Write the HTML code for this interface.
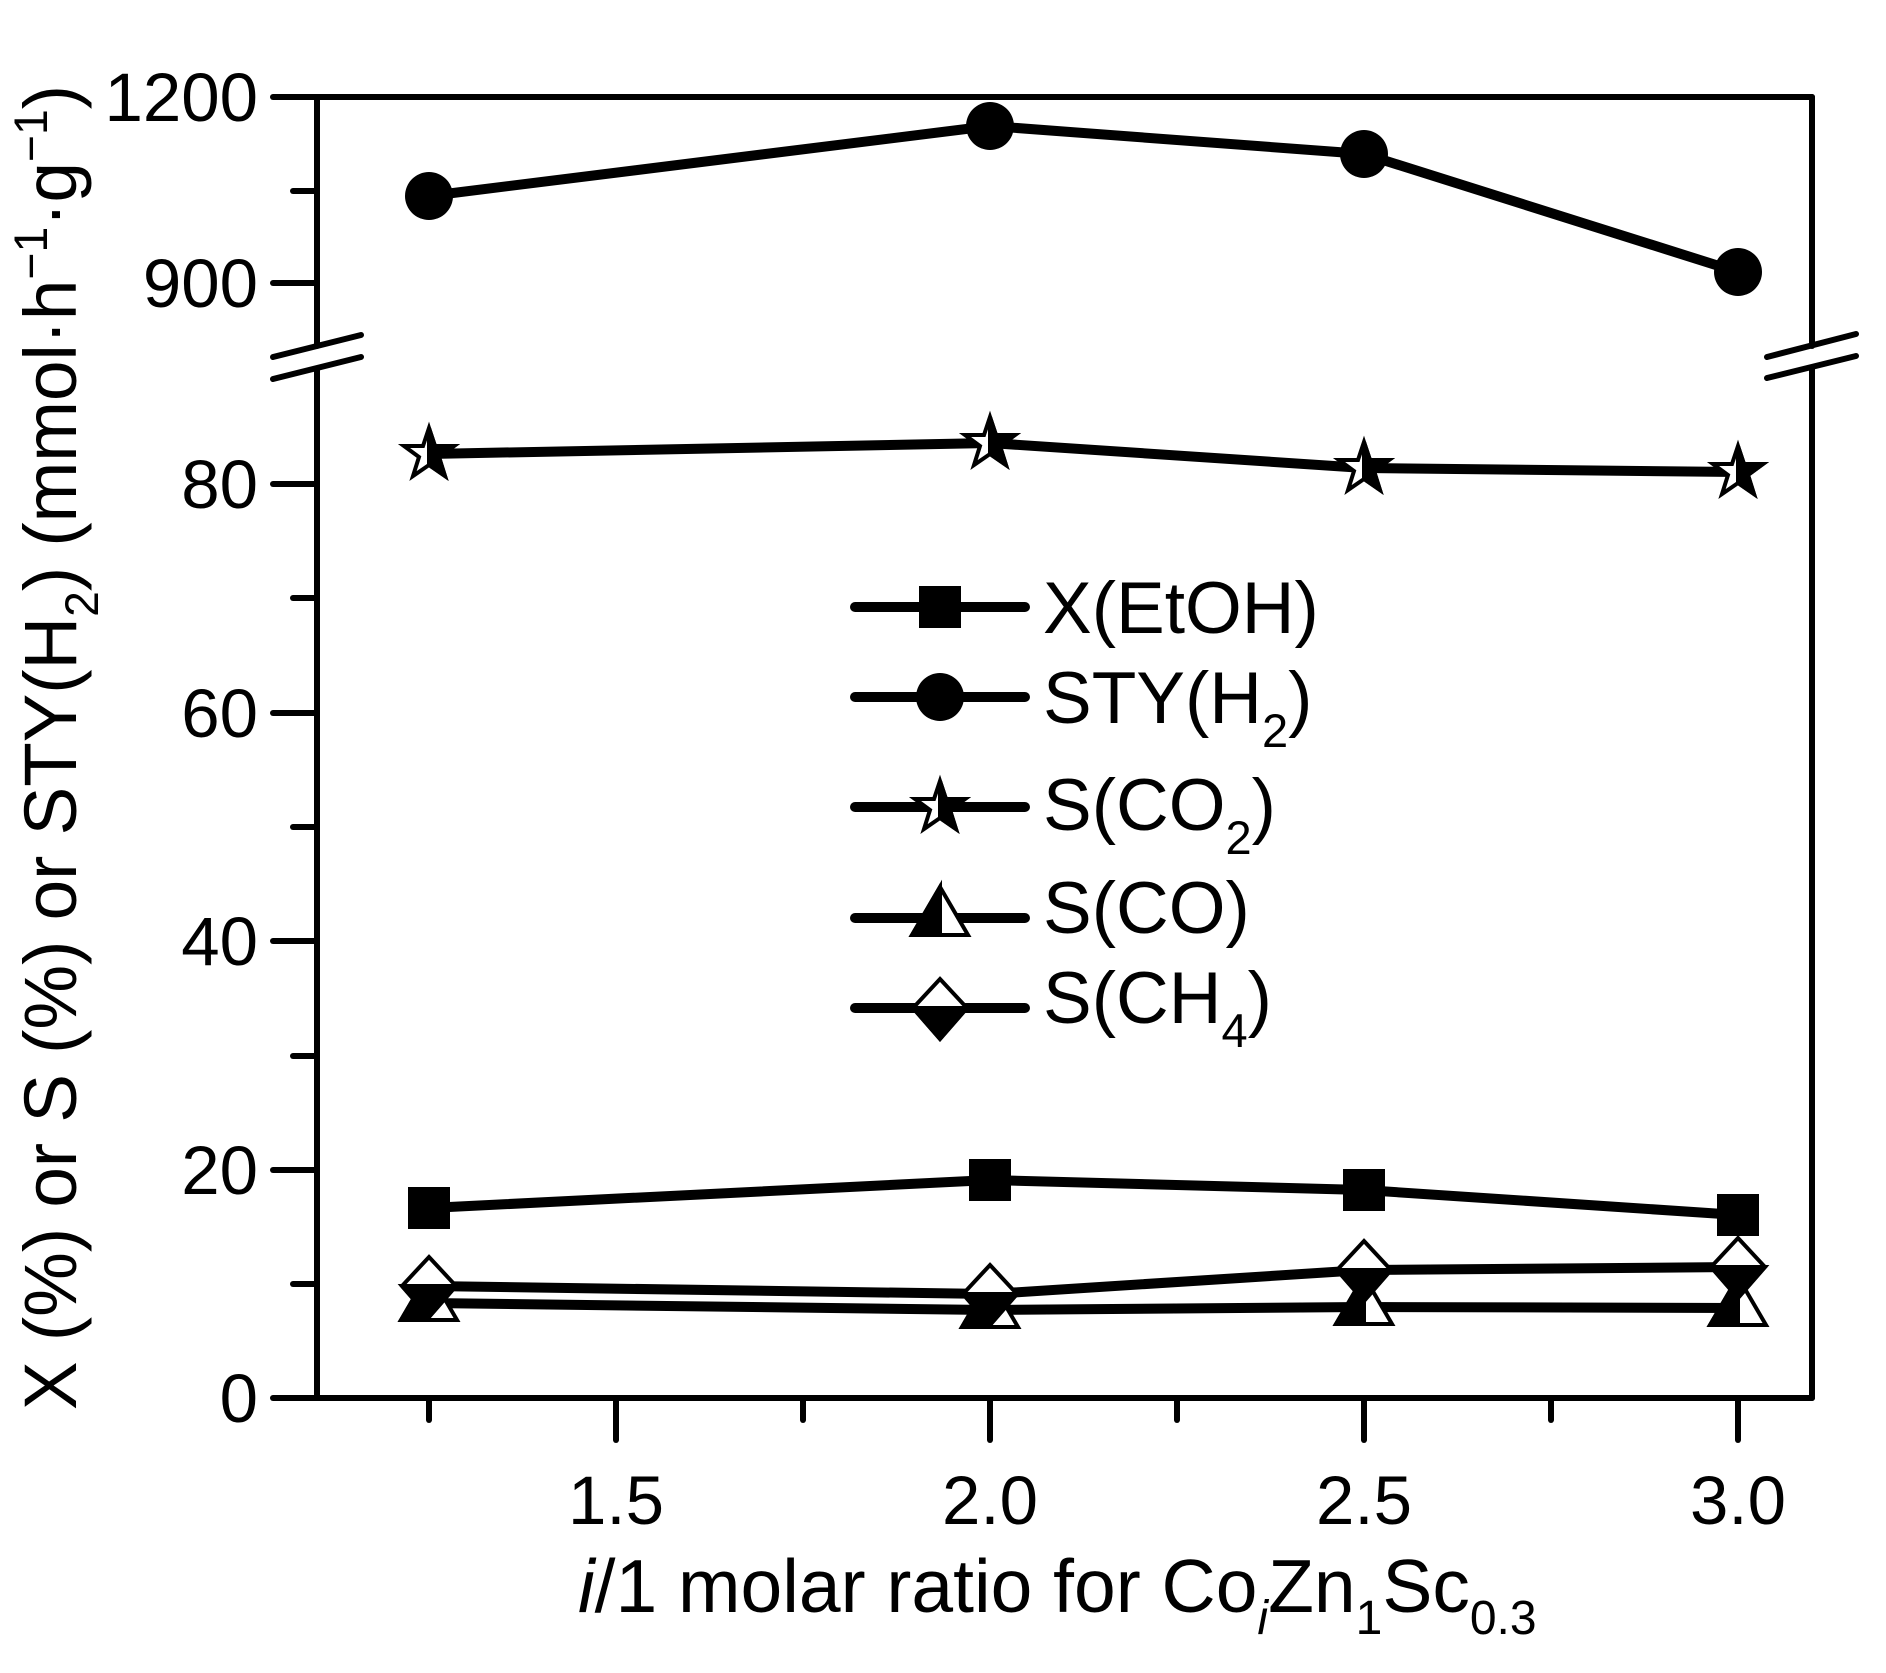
<!DOCTYPE html>
<html><head><meta charset="utf-8"><style>html,body{margin:0;padding:0;background:#fff}</style></head>
<body>
<svg width="1886" height="1668" viewBox="0 0 1886 1668" xmlns="http://www.w3.org/2000/svg" font-family="Liberation Sans, Arial, sans-serif">
<defs>
<g id="star"><polygon points="0,-26 6,-8 25,-8 10,3 16,22 0,11 -16,22 -10,3 -25,-8 -6,-8" fill="#fff" stroke="#000" stroke-width="4"/><polygon points="0,-26 6,-8 25,-8 10,3 16,22 0,11" fill="#000" stroke="#000" stroke-width="4"/></g>
<g id="tri"><polygon points="0,-31 28,17 -28,17" fill="#fff" stroke="#000" stroke-width="4"/><polygon points="0,-31 0,17 -28,17" fill="#000" stroke="#000" stroke-width="4"/></g>
<g id="dia"><polygon points="0,-29 27,0 0,31 -27,0" fill="#fff" stroke="#000" stroke-width="4"/><polygon points="-27,0 27,0 0,31" fill="#000" stroke="#000" stroke-width="4"/></g>
<rect id="sq" x="-21" y="-21" width="42" height="42" fill="#000"/>
</defs>
<g stroke="#000" stroke-width="6" stroke-linecap="round" fill="none">
<line x1="273" y1="97" x2="1812" y2="97"/>
<line x1="317" y1="97" x2="317" y2="346"/>
<line x1="317" y1="369" x2="317" y2="1398"/>
<line x1="1812" y1="97" x2="1812" y2="346"/>
<line x1="1812" y1="369" x2="1812" y2="1398"/>
<line x1="273" y1="1398" x2="1812" y2="1398"/>
<line x1="273" y1="357" x2="361" y2="335"/><line x1="273" y1="379" x2="361" y2="357"/>
<line x1="1767" y1="357" x2="1856" y2="334"/><line x1="1767" y1="378" x2="1856" y2="356"/>
<line x1="273" y1="283" x2="317" y2="283"/><line x1="293" y1="191" x2="317" y2="191"/>
<line x1="273" y1="484" x2="317" y2="484"/><line x1="273" y1="713" x2="317" y2="713"/><line x1="273" y1="941" x2="317" y2="941"/><line x1="273" y1="1170" x2="317" y2="1170"/>
<line x1="293" y1="598" x2="317" y2="598"/><line x1="293" y1="827" x2="317" y2="827"/><line x1="293" y1="1056" x2="317" y2="1056"/><line x1="293" y1="1284" x2="317" y2="1284"/>
<line x1="429" y1="1398" x2="429" y2="1420"/><line x1="616" y1="1398" x2="616" y2="1440"/><line x1="803" y1="1398" x2="803" y2="1420"/><line x1="990" y1="1398" x2="990" y2="1440"/><line x1="1177" y1="1398" x2="1177" y2="1420"/><line x1="1364" y1="1398" x2="1364" y2="1440"/><line x1="1551" y1="1398" x2="1551" y2="1420"/><line x1="1738" y1="1398" x2="1738" y2="1440"/>
</g>
<g font-size="69" text-anchor="end" fill="#000">
<text x="258" y="121">1200</text><text x="258" y="307">900</text><text x="258" y="508">80</text><text x="258" y="737">60</text><text x="258" y="965">40</text><text x="258" y="1194">20</text><text x="258" y="1422">0</text>
</g>
<g font-size="69" text-anchor="middle" fill="#000">
<text x="616" y="1524">1.5</text><text x="990" y="1524">2.0</text><text x="1364" y="1524">2.5</text><text x="1738" y="1524">3.0</text>
</g>
<g stroke="#000" stroke-width="10" stroke-linecap="round" fill="none">
<polyline points="429,196 990,126 1364,154 1738,272"/>
<polyline points="429,454 990,443 1364,468 1738,472"/>
<polyline points="429,1208 990,1180 1364,1190 1738,1215"/>
<polyline points="429,1286 990,1294 1364,1270 1738,1267"/>
<polyline points="429,1303 990,1310 1364,1307 1738,1308"/>
</g>
<g fill="#000"><circle cx="429" cy="196" r="24"/><circle cx="990" cy="126" r="24"/><circle cx="1364" cy="154" r="24"/><circle cx="1738" cy="272" r="24"/></g>
<use href="#star" x="429" y="454"/><use href="#star" x="990" y="443"/><use href="#star" x="1364" y="468"/><use href="#star" x="1738" y="472"/>
<use href="#sq" x="429" y="1208"/><use href="#sq" x="990" y="1180"/><use href="#sq" x="1364" y="1190"/><use href="#sq" x="1738" y="1215"/>
<use href="#tri" x="429" y="1303"/><use href="#tri" x="990" y="1310"/><use href="#tri" x="1364" y="1307"/><use href="#tri" x="1738" y="1308"/>
<use href="#dia" x="429" y="1286"/><use href="#dia" x="990" y="1294"/><use href="#dia" x="1364" y="1270"/><use href="#dia" x="1738" y="1267"/>
<g stroke="#000" stroke-width="10" stroke-linecap="round">
<line x1="855" y1="607" x2="1025" y2="607"/><line x1="855" y1="697" x2="1025" y2="697"/><line x1="855" y1="807" x2="1025" y2="807"/><line x1="855" y1="918" x2="1025" y2="918"/><line x1="855" y1="1008" x2="1025" y2="1008"/>
</g>
<use href="#sq" x="940" y="607"/><circle cx="940" cy="697" r="24" fill="#000"/><use href="#star" x="940" y="807"/><use href="#tri" x="940" y="918"/><use href="#dia" x="940" y="1008"/>
<g font-size="73" fill="#000">
<text x="1043" y="633">X(EtOH)</text>
<text x="1043" y="723">STY(H<tspan font-size="47" dy="24">2</tspan><tspan dy="-24">)</tspan></text>
<text x="1043" y="830">S(CO<tspan font-size="47" dy="24">2</tspan><tspan dy="-24">)</tspan></text>
<text x="1043" y="933">S(CO)</text>
<text x="1043" y="1023">S(CH<tspan font-size="47" dy="24">4</tspan><tspan dy="-24">)</tspan></text>
</g>
<text x="578" y="1612" font-size="75" fill="#000"><tspan font-style="italic">i</tspan>/1 molar ratio for Co<tspan font-size="48" dy="22" font-style="italic">i</tspan><tspan dy="-22">Zn</tspan><tspan font-size="48" dy="22">1</tspan><tspan dy="-22">Sc</tspan><tspan font-size="48" dy="22">0.3</tspan></text>
<text transform="translate(76,1410) rotate(-90)" font-size="74" fill="#000" textLength="1325" lengthAdjust="spacingAndGlyphs">X (%) or S (%) or STY(H<tspan font-size="47" dy="22">2</tspan><tspan dy="-22">) (mmol·h</tspan><tspan font-size="47" dy="-29">−1</tspan><tspan dy="29">·g</tspan><tspan font-size="47" dy="-29">−1</tspan><tspan dy="29">)</tspan></text>
</svg>
</body></html>
